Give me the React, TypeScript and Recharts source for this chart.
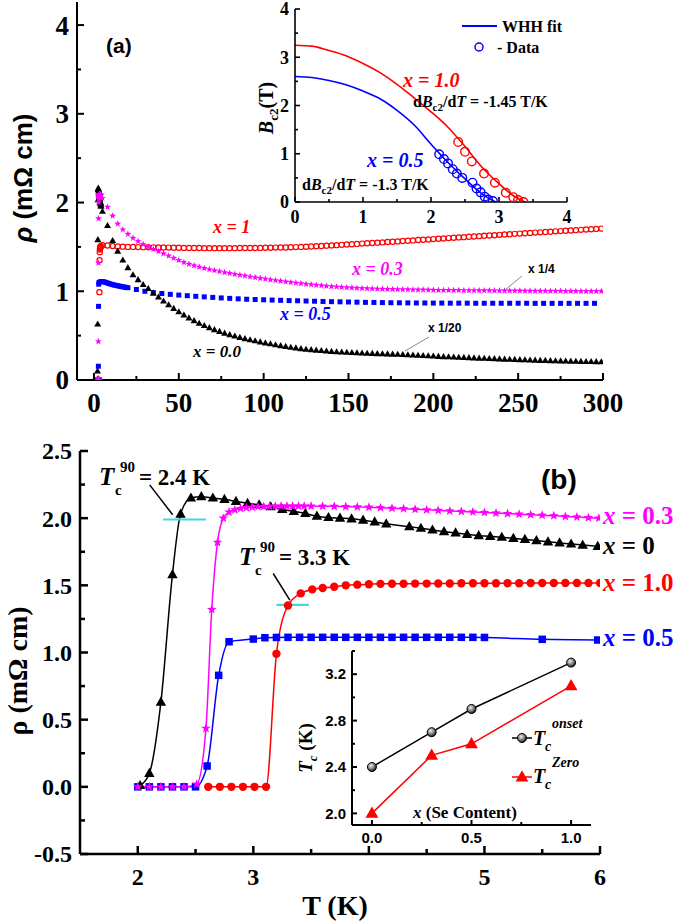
import React from 'react';
import { ComposedChart, Scatter, Line, XAxis, YAxis, ReferenceLine } from 'recharts';

const SERIF = '"Liberation Serif", "Times New Roman", serif';
const SANS = '"Liberation Sans", Arial, sans-serif';
const RED = '#ff0000';
const MAG = '#ff00ff';
const BLUE = '#0000ff';
const BLACK = '#000000';
const CYAN = '#40d8e0';

// ---------- Panel (a): rho(T), 2-300 K (values shown scaled as in figure) ----------
const A_T = [5,8,11,14,17,20,23,26,29,32,35,38,41,44,47,50,53,56,59,62,65,68,71,74,77,80,83,86,89,92,95,98,101,104,107,110,113,116,119,122,125,128,131,134,137,140,143,146,149,152,155,158,161,164,167,170,173,176,179,182,185,188,191,194,197,200,203,206,209,212,215,218,221,224,227,230,233,236,239,242,245,248,251,254,257,260,263,266,269,272,275,278,281,284,287,290,293,296,299];
const A_X10 = [1.52,1.515,1.51,1.505,1.503,1.5,1.5,1.498,1.497,1.496,
  1.495,1.494,1.493,1.492,1.491,1.49,1.489,1.488,1.487,1.487,
  1.486,1.486,1.486,1.486,1.486,1.486,1.486,1.487,1.487,1.488,
  1.488,1.489,1.49,1.491,1.492,1.493,1.494,1.496,1.498,1.5,
  1.502,1.505,1.508,1.511,1.514,1.517,1.52,1.523,1.527,1.53,
  1.534,1.537,1.541,1.544,1.548,1.551,1.555,1.558,1.562,1.566,
  1.569,1.573,1.577,1.58,1.584,1.588,1.592,1.595,1.599,1.603,
  1.607,1.61,1.614,1.618,1.621,1.625,1.629,1.632,1.636,1.64,
  1.643,1.647,1.65,1.654,1.657,1.661,1.664,1.668,1.671,1.675,
  1.678,1.682,1.685,1.689,1.692,1.696,1.699,1.703,1.706];
const A_X00 = [1.9,1.74,1.57,1.45,1.35,1.265,1.185,1.13,1.075,1.03,
  0.977,0.933,0.888,0.846,0.806,0.768,0.732,0.698,0.667,0.638,
  0.612,0.588,0.566,0.546,0.527,0.51,0.494,0.479,0.465,0.452,
  0.44,0.428,0.417,0.406,0.396,0.386,0.377,0.368,0.36,0.352,
  0.345,0.34,0.335,0.33,0.325,0.321,0.317,0.314,0.311,0.308,
  0.305,0.303,0.3,0.298,0.296,0.294,0.292,0.29,0.288,0.286,
  0.283,0.28,0.277,0.274,0.271,0.268,0.265,0.262,0.26,0.257,
  0.255,0.253,0.25,0.248,0.245,0.243,0.241,0.239,0.236,0.234,
  0.232,0.23,0.228,0.226,0.224,0.222,0.22,0.219,0.217,0.215,
  0.214,0.212,0.211,0.209,0.208,0.207,0.206,0.205,0.204];
const A_X03 = [2.05,1.95,1.85,1.76,1.695,1.645,1.6,1.565,1.53,1.5,
  1.475,1.45,1.425,1.4,1.375,1.35,1.327,1.307,1.29,1.274,
  1.26,1.247,1.235,1.224,1.213,1.203,1.193,1.183,1.174,1.165,
  1.156,1.147,1.139,1.131,1.123,1.115,1.108,1.101,1.094,1.088,
  1.082,1.076,1.07,1.064,1.059,1.054,1.05,1.046,1.042,1.039,
  1.036,1.033,1.031,1.029,1.027,1.025,1.024,1.022,1.021,1.02,
  1.019,1.018,1.017,1.016,1.015,1.014,1.013,1.013,1.012,1.011,
  1.011,1.01,1.01,1.009,1.009,1.008,1.008,1.007,1.007,1.006,
  1.006,1.005,1.005,1.004,1.004,1.003,1.003,1.003,1.002,1.002,
  1.002,1.001,1.001,1.001,1.0,1.0,1.0,1.0,1.0];
const A_X05_T = [3,4,5,6,7,8,9,10,11,12,13,14,15,16,17,18,19,20,25,30,35,40,45,50,55,60,65,70,75,80,85,90,95,100,105,110,115,120,125,130,135,140,145,150,155,160,165,170,175,180,185,190,195,200,205,210,215,220,225,230,235,240,245,250,255,260,265,270,275,280,285,290,295];
const A_X05 = [1.1,1.11,1.11,1.105,1.1,1.093,1.087,1.08,1.075,1.07,1.066,1.062,1.058,1.054,1.05,1.047,1.043,1.04,
  1.02,1.0,0.985,0.975,0.965,0.957,0.95,0.943,0.937,0.931,
  0.925,0.92,0.915,0.91,0.907,0.904,0.901,0.898,0.895,0.893,
  0.89,0.888,0.885,0.883,0.881,0.879,0.877,0.875,0.874,0.872,
  0.871,0.87,0.869,0.868,0.868,0.867,0.867,0.866,0.866,0.866,
  0.865,0.865,0.865,0.865,0.865,0.865,0.865,0.864,0.864,0.864,
  0.864,0.864,0.864,0.864,0.864];

// ---------- Panel (b): transitions 2-6 K ----------
const B_X0_T = [2.02,2.1,2.2,2.3,2.37,2.46,2.55,2.65,2.75,2.85,2.95,3.05,3.15,3.25,3.35,3.45,3.55,3.65,3.75,3.85,3.95,4.05,4.15,4.35,4.45,4.55,4.65,4.75,4.85,4.95,5.05,5.15,5.25,5.35,5.45,5.55,5.65,5.75,5.85,5.98];
const B_X0 = [0.01,0.1,0.63,1.58,2.03,2.15,2.16,2.15,2.14,2.125,2.11,2.1,2.085,2.065,2.05,2.035,2.015,2.005,2.0,1.995,1.985,1.972,1.958,1.937,1.925,1.912,1.9,1.89,1.88,1.87,1.865,1.858,1.85,1.842,1.833,1.824,1.816,1.808,1.8,1.79];
const B_X03_T = [2.0,2.1,2.2,2.3,2.4,2.51,2.59,2.64,2.69,2.74,2.79,2.84,2.89,2.94,2.99,3.04,3.09,3.14,3.19,3.24,3.29,3.34,3.39,3.44,3.5,3.6,3.7,3.8,3.9,4.0,4.1,4.2,4.3,4.4,4.5,4.6,4.7,4.8,4.9,5.0,5.1,5.2,5.3,5.4,5.5,5.6,5.7,5.8,5.9,5.99];
const B_X03 = [0,0,0,0,0,0.02,0.435,1.32,1.82,2.0,2.045,2.062,2.072,2.078,2.082,2.085,2.087,2.088,2.089,2.09,2.09,2.09,2.09,2.09,2.09,2.089,2.088,2.086,2.084,2.082,2.078,2.074,2.07,2.066,2.062,2.058,2.054,2.05,2.046,2.042,2.038,2.034,2.03,2.026,2.022,2.018,2.013,2.009,2.004,2.0];
const B_X05_T = [2.0,2.1,2.2,2.3,2.4,2.5,2.6,2.7,2.79,3.0,3.1,3.2,3.3,3.4,3.5,3.6,3.7,3.8,3.9,4.0,4.1,4.2,4.3,4.4,4.5,4.6,4.7,4.8,4.9,5.0,5.5,5.98];
const B_X05 = [0,0,0,0,0,0,0.155,0.83,1.08,1.1,1.11,1.112,1.113,1.113,1.113,1.113,1.113,1.113,1.113,1.113,1.113,1.113,1.113,1.113,1.113,1.113,1.113,1.113,1.113,1.112,1.098,1.093];
const B_X10_T = [2.61,2.71,2.81,2.91,3.01,3.11,3.2,3.3,3.41,3.51,3.6,3.7,3.8,3.9,4.0,4.1,4.2,4.3,4.4,4.5,4.6,4.7,4.8,4.9,5.0,5.1,5.2,5.3,5.4,5.5,5.6,5.7,5.8,5.9,6.0];
const B_X10 = [0,0,0,0,0,0,0.99,1.35,1.44,1.47,1.48,1.49,1.5,1.505,1.508,1.511,1.512,1.512,1.513,1.513,1.514,1.514,1.515,1.515,1.515,1.516,1.516,1.516,1.517,1.517,1.517,1.518,1.518,1.518,1.518];

// ---------- Inset (a): Bc2(T) ----------
const IA_RED_FIT_T = [0,0.25,0.5,0.75,1,1.25,1.5,1.75,2,2.25,2.5,2.75,3,3.2,3.38];
const IA_RED_FIT = [3.25,3.23,3.14,3.03,2.87,2.68,2.44,2.16,1.87,1.55,1.15,0.72,0.38,0.14,0];
const IA_BLUE_FIT_T = [0,0.25,0.5,0.75,1,1.25,1.5,1.75,2,2.25,2.5,2.75,2.95];
const IA_BLUE_FIT = [2.6,2.58,2.52,2.43,2.3,2.14,1.9,1.6,1.2,0.82,0.48,0.17,0];
const IA_RED_DATA_T = [2.4,2.5,2.6,2.78,2.94,3.1,3.21,3.28,3.36];
const IA_RED_DATA = [1.245,1.04,0.84,0.59,0.4,0.19,0.1,0.04,0.0];
const IA_BLUE_DATA_T = [2.12,2.19,2.25,2.32,2.38,2.46,2.61,2.67,2.73,2.79,2.84,2.91];
const IA_BLUE_DATA = [0.99,0.89,0.8,0.68,0.59,0.5,0.4,0.28,0.2,0.11,0.05,0.02];

// ---------- Inset (b): Tc vs Se content ----------
const SE_X = [0, 0.3, 0.5, 1.0];
const TC_ONSET = [2.4, 2.7, 2.9, 3.3];
const TC_ZERO = [2.0, 2.5, 2.6, 3.1];

// ---------- ticks ----------
const A_XTICKS = [0,25,50,75,100,125,150,175,200,225,250,275,300];
const A_XMAJ = [0,50,100,150,200,250,300];
const A_YTICKS = [0,0.5,1,1.5,2,2.5,3,3.5,4];
const A_YMAJ = [0,1,2,3,4];
const IA_TICKS = [0,0.5,1,1.5,2,2.5,3,3.5,4];
const IA_MAJ = [0,1,2,3,4];
const B_XTICKS = [2,2.5,3,3.5,4,4.5,5,5.5,6];
const B_XMAJ = [2,3,4,5,6];
const B_XLAB = [2,3,5,6];
const B_YTICKS = [-0.5,-0.25,0,0.25,0.5,0.75,1,1.25,1.5,1.75,2,2.25,2.5];
const B_YMAJ = [-0.5,0,0.5,1,1.5,2,2.5];
const IB_XTICKS = [0,0.25,0.5,0.75,1.0];
const IB_XMAJ = [0,0.5,1.0];
const IB_YTICKS = [2.0,2.2,2.4,2.6,2.8,3.0,3.2,3.4];
const IB_YMAJ = [2.0,2.4,2.8,3.2];

const zip = (t: number[], v: number[]) => t.map((T, i) => ({ T, v: v[i] }));

// composite series for panel (a): low-T transition points + high-T curve
const aRed = [...zip(B_X10_T, B_X10).filter(d => d.T <= 4.0), ...zip(A_T, A_X10)];
const aBlack = [...zip(B_X0_T, B_X0).filter(d => d.T <= 4.15), ...zip(A_T, A_X00)];
const aMag = [...zip(B_X03_T, B_X03).filter(d => d.T <= 4.0), ...zip(A_T, A_X03)];
const aBlue = [...zip(B_X05_T, B_X05).filter(d => d.T < 3), ...zip(A_X05_T, A_X05)];

// ---------- marker paths ----------
const triPath = (cx: number, cy: number, s: number) =>
  `M${cx},${cy - s * 0.62}L${cx + s * 0.58},${cy + s * 0.4}L${cx - s * 0.58},${cy + s * 0.4}Z`;
const starPath = (cx: number, cy: number, R: number) => {
  let d = '';
  for (let i = 0; i < 10; i++) {
    const rr = i % 2 === 0 ? R : R * 0.42;
    const a = -Math.PI / 2 + (i * Math.PI) / 5;
    d += (i ? 'L' : 'M') + (cx + rr * Math.cos(a)).toFixed(2) + ',' + (cy + rr * Math.sin(a)).toFixed(2);
  }
  return d + 'Z';
};

const mkTri = (fill: string, s: number) => (p: any) =>
  p.cx == null ? <g key={p.index} /> : <path key={'t' + p.index} d={triPath(p.cx, p.cy, s)} fill={fill} />;
const mkStar = (fill: string, R: number) => (p: any) =>
  p.cx == null ? <g key={p.index} /> : <path key={'s' + p.index} d={starPath(p.cx, p.cy, R)} fill={fill} />;
const mkSq = (fill: string, s: number) => (p: any) =>
  p.cx == null ? <g key={p.index} /> : <rect key={'q' + p.index} x={p.cx - s / 2} y={p.cy - s / 2} width={s} height={s} fill={fill} />;
const mkCirc = (fill: string, stroke: string, r: number, sw: number) => (p: any) =>
  p.cx == null ? <g key={p.index} /> : <circle key={'c' + p.index} cx={p.cx} cy={p.cy} r={r} fill={fill} stroke={stroke} strokeWidth={sw} />;

// ---------- tick renderer ----------
type TC = {
  side: 'b' | 't' | 'l' | 'r';
  majors: number[];
  labeled?: number[];
  big: number;
  small: number;
  font?: string;
  size?: number;
  off?: number;
  dec?: number;
  sw: number;
};
const near = (arr: number[] | undefined, v: number) => !!arr && arr.some(m => Math.abs(m - v) < 1e-9);
const mkTick = (c: TC) => (p: any) => {
  const v = Number(p.payload && p.payload.value);
  const L = near(c.majors, v) ? c.big : c.small;
  const x = p.x;
  const y = p.y;
  let ln;
  if (c.side === 'b') ln = <line x1={x} x2={x} y1={y} y2={y - L} />;
  else if (c.side === 't') ln = <line x1={x} x2={x} y1={y} y2={y + L} />;
  else if (c.side === 'l') ln = <line x1={x} x2={x + L} y1={y} y2={y} />;
  else ln = <line x1={x} x2={x - L} y1={y} y2={y} />;
  let tx = null;
  if (near(c.labeled, v)) {
    const label = c.dec != null ? v.toFixed(c.dec) : String(v);
    const common = { fontFamily: c.font, fontSize: c.size, fontWeight: 'bold' as const, fill: '#000' };
    if (c.side === 'b') tx = <text x={x} y={y + (c.off || 0)} textAnchor="middle" {...common}>{label}</text>;
    else if (c.side === 'l') tx = <text x={x - (c.off || 0)} y={y} dy="0.35em" textAnchor="end" {...common}>{label}</text>;
  }
  return (
    <g>
      <g stroke="#000" strokeWidth={c.sw}>{ln}</g>
      {tx}
    </g>
  );
};

const axisCommon = {
  type: 'number' as const,
  allowDataOverflow: true,
  interval: 0 as const,
  tickLine: false,
  tickSize: 0,
  tickMargin: 0,
};

function PanelA() {
  const sw = 2;
  const al = { stroke: '#000', strokeWidth: sw };
  return (
    <ComposedChart width={675} height={430} margin={{ top: 2, right: 72, bottom: 0, left: 0 }}>
      <XAxis {...axisCommon} xAxisId={0} dataKey="T" domain={[-10, 300]} ticks={A_XTICKS} height={50} axisLine={al}
        tick={mkTick({ side: 'b', majors: A_XMAJ, labeled: A_XMAJ, big: 7, small: 4, font: SERIF, size: 27, off: 32, sw })} />
      <XAxis {...axisCommon} xAxisId="t" orientation="top" domain={[-10, 300]} ticks={A_XTICKS} height={0} axisLine={al}
        tick={mkTick({ side: 't', majors: A_XMAJ, big: 7, small: 4, sw })} />
      <YAxis {...axisCommon} yAxisId={0} dataKey="v" domain={[0, 4.26]} ticks={A_YTICKS} width={77} axisLine={al}
        tick={mkTick({ side: 'l', majors: A_YMAJ, labeled: A_YMAJ, big: 7, small: 4, font: SERIF, size: 27, off: 8, sw })} />
      <YAxis {...axisCommon} yAxisId="r" orientation="right" domain={[0, 4.26]} ticks={A_YTICKS} width={0} axisLine={al}
        tick={mkTick({ side: 'r', majors: A_YMAJ, big: 7, small: 4, sw })} />
      <Scatter data={aRed} isAnimationActive={false} shape={mkCirc('none', RED, 2.6, 1.2)} />
      <Scatter data={aBlue} isAnimationActive={false} shape={mkSq(BLUE, 5)} />
      <Scatter data={aBlack} isAnimationActive={false} shape={mkTri(BLACK, 6)} />
      <Scatter data={aMag} isAnimationActive={false} shape={mkStar(MAG, 3.6)} />
    </ComposedChart>
  );
}

function InsetA() {
  const sw = 1.6;
  const al = { stroke: '#000', strokeWidth: sw };
  return (
    <ComposedChart width={330} height={235} margin={{ top: 9, right: 13, bottom: 0, left: 0 }}>
      <XAxis {...axisCommon} xAxisId={0} dataKey="T" domain={[0, 4]} ticks={IA_TICKS} height={33} axisLine={al}
        tick={mkTick({ side: 'b', majors: IA_MAJ, labeled: IA_MAJ, big: 5, small: 3, font: SERIF, size: 18, off: 21, sw })} />
      <XAxis {...axisCommon} xAxisId="t" orientation="top" domain={[0, 4]} ticks={IA_TICKS} height={0} axisLine={al}
        tick={mkTick({ side: 't', majors: IA_MAJ, big: 5, small: 3, sw })} />
      <YAxis {...axisCommon} yAxisId={0} dataKey="v" domain={[0, 4]} ticks={IA_TICKS} width={45} axisLine={al}
        tick={mkTick({ side: 'l', majors: IA_MAJ, labeled: IA_MAJ, big: 5, small: 3, font: SERIF, size: 18, off: 6, sw })} />
      <YAxis {...axisCommon} yAxisId="r" orientation="right" domain={[0, 4]} ticks={IA_TICKS} width={0} axisLine={al}
        tick={mkTick({ side: 'r', majors: IA_MAJ, big: 5, small: 3, sw })} />
      <Line data={zip(IA_RED_FIT_T, IA_RED_FIT)} dataKey="v" type="monotone" stroke={RED} strokeWidth={1.6} dot={false} activeDot={false} isAnimationActive={false} />
      <Line data={zip(IA_BLUE_FIT_T, IA_BLUE_FIT)} dataKey="v" type="monotone" stroke={BLUE} strokeWidth={1.6} dot={false} activeDot={false} isAnimationActive={false} />
      <Scatter data={zip(IA_RED_DATA_T, IA_RED_DATA)} isAnimationActive={false} shape={mkCirc('none', RED, 4.3, 1.4)} />
      <Scatter data={zip(IA_BLUE_DATA_T, IA_BLUE_DATA)} isAnimationActive={false} shape={mkCirc('none', BLUE, 4.3, 1.4)} />
    </ComposedChart>
  );
}

function PanelB() {
  const sw = 2.5;
  const al = { stroke: '#000', strokeWidth: sw };
  return (
    <ComposedChart width={675} height={491} margin={{ top: 21, right: 75, bottom: 0, left: 0 }}>
      <XAxis {...axisCommon} xAxisId={0} dataKey="T" domain={[1.5, 6]} ticks={B_XTICKS} height={67} axisLine={al}
        tick={mkTick({ side: 'b', majors: B_XMAJ, labeled: B_XLAB, big: 8, small: 5, font: SERIF, size: 24, off: 31, sw })} />
      <XAxis {...axisCommon} xAxisId="t" orientation="top" domain={[1.5, 6]} ticks={B_XTICKS} height={0} axisLine={al}
        tick={mkTick({ side: 't', majors: B_XMAJ, big: 8, small: 5, sw })} />
      <YAxis {...axisCommon} yAxisId={0} dataKey="v" domain={[-0.5, 2.5]} ticks={B_YTICKS} width={80} axisLine={al}
        tick={mkTick({ side: 'l', majors: B_YMAJ, labeled: B_YMAJ, big: 8, small: 5, font: SERIF, size: 24, off: 8, dec: 1, sw })} />
      <YAxis {...axisCommon} yAxisId="r" orientation="right" domain={[-0.5, 2.5]} ticks={B_YTICKS} width={0} axisLine={al}
        tick={mkTick({ side: 'r', majors: B_YMAJ, big: 8, small: 5, sw })} />
      <Line data={zip(B_X10_T, B_X10)} dataKey="v" type="monotone" stroke={RED} strokeWidth={1.5} dot={mkCirc(RED, RED, 4.2, 0)} activeDot={false} isAnimationActive={false} />
      <Line data={zip(B_X05_T, B_X05)} dataKey="v" type="monotone" stroke={BLUE} strokeWidth={1.5} dot={mkSq(BLUE, 7.5)} activeDot={false} isAnimationActive={false} />
      <Line data={zip(B_X0_T, B_X0)} dataKey="v" type="monotone" stroke={BLACK} strokeWidth={1.5} dot={mkTri(BLACK, 9)} activeDot={false} isAnimationActive={false} />
      <Line data={zip(B_X03_T, B_X03)} dataKey="v" type="monotone" stroke={MAG} strokeWidth={1.5} dot={mkStar(MAG, 5)} activeDot={false} isAnimationActive={false} />
      <ReferenceLine segment={[{ x: 2.22, y: 1.99 }, { x: 2.59, y: 1.99 }]} stroke={CYAN} strokeWidth={2.2} ifOverflow="visible" />
      <ReferenceLine segment={[{ x: 3.2, y: 1.355 }, { x: 3.48, y: 1.355 }]} stroke={CYAN} strokeWidth={2.2} ifOverflow="visible" />
      <ReferenceLine segment={[{ x: 2.103, y: 2.248 }, { x: 2.302, y: 2.025 }]} stroke={BLACK} strokeWidth={1.5} ifOverflow="visible" />
      <ReferenceLine segment={[{ x: 3.172, y: 1.588 }, { x: 3.316, y: 1.39 }]} stroke={BLACK} strokeWidth={1.5} ifOverflow="visible" />
    </ComposedChart>
  );
}

function InsetB() {
  const sw = 2;
  const al = { stroke: '#000', strokeWidth: sw };
  const onset = SE_X.map((x, i) => ({ T: x, v: TC_ONSET[i] }));
  const zero = SE_X.map((x, i) => ({ T: x, v: TC_ZERO[i] }));
  return (
    <ComposedChart width={310} height={215} margin={{ top: 11, right: 9, bottom: 0, left: 0 }}>
      <XAxis {...axisCommon} xAxisId={0} dataKey="T" domain={[-0.1, 1.1]} ticks={IB_XTICKS} height={30} axisLine={al}
        tick={mkTick({ side: 'b', majors: IB_XMAJ, labeled: IB_XMAJ, big: 5, small: 3, font: SANS, size: 15, off: 18, dec: 1, sw })} />
      <XAxis {...axisCommon} xAxisId="t" orientation="top" domain={[-0.1, 1.1]} ticks={IB_XTICKS} height={0} axisLine={al}
        tick={mkTick({ side: 't', majors: IB_XMAJ, big: 5, small: 3, sw })} />
      <YAxis {...axisCommon} yAxisId={0} dataKey="v" domain={[1.9, 3.4]} ticks={IB_YTICKS} width={62} axisLine={al}
        tick={mkTick({ side: 'l', majors: IB_YMAJ, labeled: IB_YMAJ, big: 5, small: 3, font: SANS, size: 15, off: 6, dec: 1, sw })} />
      <YAxis {...axisCommon} yAxisId="r" orientation="right" domain={[1.9, 3.4]} ticks={IB_YTICKS} width={0} axisLine={al}
        tick={mkTick({ side: 'r', majors: IB_YMAJ, big: 5, small: 3, sw })} />
      <Line data={onset} dataKey="v" type="linear" stroke={BLACK} strokeWidth={1.5} dot={mkCirc('url(#ballGrad)', BLACK, 4.5, 1)} activeDot={false} isAnimationActive={false} />
      <Line data={zero} dataKey="v" type="linear" stroke={RED} strokeWidth={1.5} dot={mkTri(RED, 11)} activeDot={false} isAnimationActive={false} />
    </ComposedChart>
  );
}

function Overlay() {
  const sb = { fontFamily: SERIF, fontWeight: 'bold' as const };
  const sa = { fontFamily: SANS, fontWeight: 'bold' as const };
  return (
    <svg width={675} height={921} style={{ position: 'absolute', left: 0, top: 0, pointerEvents: 'none' }}>
      <defs>
        <radialGradient id="ballGrad" cx="40%" cy="35%" r="65%">
          <stop offset="0" stopColor="#f0f0f0" />
          <stop offset="0.6" stopColor="#777" />
          <stop offset="1" stopColor="#111" />
        </radialGradient>
      </defs>
      {/* ---- panel (a) ---- */}
      <text transform="rotate(-90 32 178)" x={32} y={178} textAnchor="middle" {...sa} fontSize={26}>
        <tspan fontStyle="italic">ρ</tspan> (mΩ cm)
      </text>
      <text x={106} y={53} {...sa} fontSize={21}>(a)</text>
      <text x={213} y={233} {...sb} fontStyle="italic" fontSize={18} fill={RED}>x = 1</text>
      <text x={352} y={275} {...sb} fontStyle="italic" fontSize={18} fill={MAG}>x = 0.3</text>
      <text x={280} y={320} {...sb} fontStyle="italic" fontSize={18} fill={BLUE}>x = 0.5</text>
      <text x={193} y={357} {...sb} fontStyle="italic" fontSize={17} fill={BLACK}>x = 0.0</text>
      <text x={528} y={273} {...sa} fontSize={12}>x 1/4</text>
      <text x={428} y={332} {...sa} fontSize={12}>x 1/20</text>
      <line x1={522} y1={276} x2={505} y2={290} stroke="#888" strokeWidth={1} />
      <line x1={429} y1={337} x2={405} y2={351} stroke="#888" strokeWidth={1} />
      {/* ---- inset (a) ---- */}
      <text transform="rotate(-90 273 108)" x={273} y={108} textAnchor="middle" {...sb} fontSize={20}>
        <tspan fontStyle="italic">B</tspan><tspan fontSize={13} dy={5}>c2</tspan><tspan dy={-5}>(T)</tspan>
      </text>
      <line x1={462} y1={26} x2={497} y2={26} stroke={BLUE} strokeWidth={2} />
      <text x={502} y={32} {...sb} fontSize={16}>WHH fit</text>
      <circle cx={479} cy={47} r={4} fill="none" stroke={BLUE} strokeWidth={1.5} />
      <text x={497} y={53} {...sb} fontSize={16}>- Data</text>
      <text x={403} y={87} {...sb} fontStyle="italic" fontSize={20} fill={RED}>x = 1.0</text>
      <text x={413} y={107} {...sb} fontSize={16}>
        d<tspan fontStyle="italic">B</tspan><tspan fontSize={11} dy={4}>c2</tspan><tspan dy={-4}>/d</tspan><tspan fontStyle="italic">T</tspan> = -1.45 T/K
      </text>
      <text x={367} y={167} {...sb} fontStyle="italic" fontSize={20} fill={BLUE}>x = 0.5</text>
      <text x={302} y={190} {...sb} fontSize={16}>
        d<tspan fontStyle="italic">B</tspan><tspan fontSize={11} dy={4}>c2</tspan><tspan dy={-4}>/d</tspan><tspan fontStyle="italic">T</tspan> = -1.3 T/K
      </text>
      {/* ---- panel (b) ---- */}
      <text transform="rotate(-90 27 671)" x={27} y={671} textAnchor="middle" {...sb} fontSize={28}>ρ (mΩ cm)</text>
      <text x={335} y={915} textAnchor="middle" {...sb} fontSize={28}>T (K)</text>
      <text x={541} y={489} {...sa} fontSize={28}>(b)</text>
      <text x={603} y={524} {...sb} fontSize={25} fill={MAG}><tspan fontStyle="italic">x</tspan> = 0.3</text>
      <text x={603} y={554} {...sb} fontSize={25} fill={BLACK}><tspan fontStyle="italic">x</tspan> = 0</text>
      <text x={603} y={591} {...sb} fontSize={25} fill={RED}><tspan fontStyle="italic">x</tspan> = 1.0</text>
      <text x={603} y={646} {...sb} fontSize={25} fill={BLUE}><tspan fontStyle="italic">x</tspan> = 0.5</text>
      <text x={99} y={485} {...sb} fontStyle="italic" fontSize={25}>T</text>
      <text x={115} y={495} {...sb} fontSize={15}>c</text>
      <text x={120} y={472} {...sb} fontSize={15}>90</text>
      <text x={139} y={485} {...sb} fontSize={23}>= 2.4 K</text>
      <text x={239} y={565} {...sb} fontStyle="italic" fontSize={25}>T</text>
      <text x={255} y={575} {...sb} fontSize={15}>c</text>
      <text x={260} y={552} {...sb} fontSize={15}>90</text>
      <text x={279} y={565} {...sb} fontSize={23}>= 3.3 K</text>
      {/* ---- inset (b) ---- */}
      <text transform="rotate(-90 312 748)" x={312} y={748} textAnchor="middle" {...sb} fontSize={19}>
        <tspan fontStyle="italic">T</tspan><tspan fontStyle="italic" fontSize={13} dy={5}>c</tspan><tspan dy={-5}> (K)</tspan>
      </text>
      <text x={413} y={818} {...sb} fontSize={17}><tspan fontStyle="italic">x</tspan> (Se Content)</text>
      <line x1={512} y1={738} x2={532} y2={738} stroke={BLACK} strokeWidth={1.5} />
      <circle cx={522} cy={738} r={4.5} fill="url(#ballGrad)" stroke={BLACK} strokeWidth={1} />
      <text x={533} y={745} {...sb} fontStyle="italic" fontSize={20}>T</text>
      <text x={545} y={751} {...sb} fontStyle="italic" fontSize={14}>c</text>
      <text x={552} y={728} {...sb} fontStyle="italic" fontSize={14}>onset</text>
      <line x1={512} y1={777} x2={532} y2={777} stroke={RED} strokeWidth={1.5} />
      <path d={triPath(522, 777, 11)} fill={RED} />
      <text x={533} y={783} {...sb} fontStyle="italic" fontSize={20}>T</text>
      <text x={545} y={789} {...sb} fontStyle="italic" fontSize={14}>c</text>
      <text x={552} y={767} {...sb} fontStyle="italic" fontSize={14}>Zero</text>
    </svg>
  );
}

export default function App() {
  return (
    <div style={{ position: 'absolute', left: 0, top: 0, width: 675, height: 921, background: '#fff', overflow: 'hidden' }}>
      <div style={{ position: 'absolute', left: 0, top: 0 }}><PanelA /></div>
      <div style={{ position: 'absolute', left: 250, top: 0 }}><InsetA /></div>
      <div style={{ position: 'absolute', left: 0, top: 430 }}><PanelB /></div>
      <div style={{ position: 'absolute', left: 290, top: 640 }}><InsetB /></div>
      <Overlay />
    </div>
  );
}
